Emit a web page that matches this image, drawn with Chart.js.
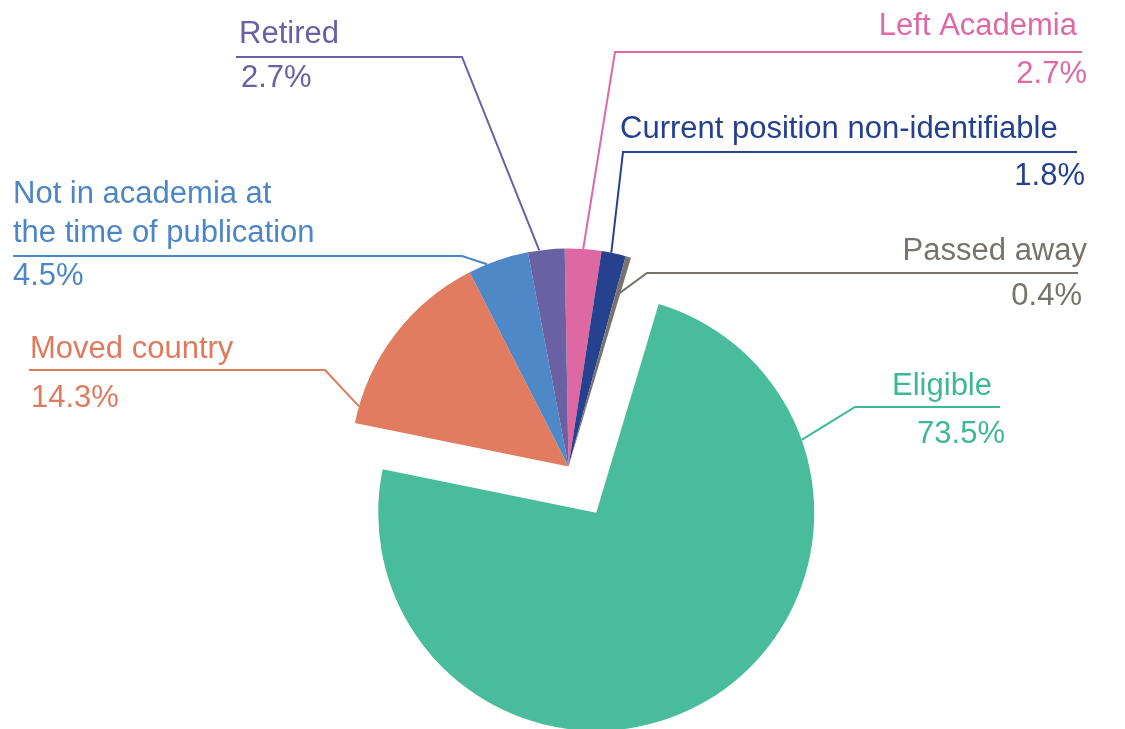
<!DOCTYPE html>
<html>
<head>
<meta charset="utf-8">
<script src="https://cdn.jsdelivr.net/npm/chart.js@4.4.1/dist/chart.umd.min.js"></script>
<style>
  html, body { margin: 0; padding: 0; background: #ffffff; }
  #wrap { width: 1125px; height: 729px; position: relative; }
</style>
</head>
<body>
<div id="wrap"><canvas id="c"></canvas></div>
<script>
// ---- data ----
const categories = [
  ["Left Academia"],
  ["Current position non-identifiable"],
  ["Passed away"],
  ["Eligible"],
  ["Moved country"],
  ["Not in academia at", "the time of publication"],
  ["Retired"]
];
const values = [2.7, 1.8, 0.4, 73.5, 14.3, 4.5, 2.7];
const sliceColors = ["#de68a2", "#26428f", "#78736e", "#49bc9c", "#e17c60", "#4f88c7", "#6961a4"];
const textColors  = ["#df69a5", "#25408f", "#77726d", "#3db897", "#e07a5f", "#4d86c6", "#6a60a6"];
const explode     = [0, 0, 0, 54, 0, 0, 0];

// ---- label layout (positions only) ----
const labelLayout = [
  { anchorFrac: 0.50, rFrac: 1.00, elbow: [615, 52],  end: [1082, 52],
    nameAlign: "right", nameX: 1077, nameY: [35], pctAlign: "right", pctX: 1087, pctY: 83 },
  { anchorFrac: 0.40, rFrac: 1.00, elbow: [623, 152], end: [1077, 152],
    nameAlign: "left", nameX: 620, nameY: [138], pctAlign: "right", pctX: 1085, pctY: 185 },
  { anchorFrac: 0.47, rFrac: 0.82, elbow: [647, 273], end: [1078, 273],
    nameAlign: "right", nameX: 1087, nameY: [260], pctAlign: "right", pctX: 1082, pctY: 305 },
  { anchorFrac: 0.203, rFrac: 1.00, elbow: [855, 407], end: [1000, 407],
    nameAlign: "right", nameX: 992, nameY: [395], pctAlign: "right", pctX: 1005, pctY: 443 },
  { anchorFrac: 0.087, rFrac: 1.00, elbow: [325, 370], end: [29, 370],
    nameAlign: "left", nameX: 30, nameY: [358], pctAlign: "left", pctX: 31, pctY: 407 },
  { anchorFrac: 0.31, rFrac: 1.00, elbow: [462, 256], end: [13, 256],
    nameAlign: "left", nameX: 13, nameY: [203, 242], pctAlign: "left", pctX: 13, pctY: 285 },
  { anchorFrac: 0.31, rFrac: 1.00, elbow: [462, 57], end: [236, 57],
    nameAlign: "left", nameX: 239, nameY: [43], pctAlign: "left", pctX: 241, pctY: 87 }
];

const FONT = '31px "Liberation Sans", Arial, Helvetica, sans-serif';

const explodePlugin = {
  id: 'explode',
  afterUpdate(chart) {
    const meta = chart.getDatasetMeta(0);
    meta.data.forEach((arc, i) => {
      const d = explode[i];
      if (!d || arc._exploded) return;
      const orig = arc.draw;
      arc.draw = function (ctx, area) {
        const half = (this.startAngle + this.endAngle) / 2;
        ctx.save();
        ctx.translate(Math.cos(half) * d, Math.sin(half) * d);
        orig.call(this, ctx, area);
        ctx.restore();
      };
      arc._exploded = true;
    });
  }
};

const calloutPlugin = {
  id: 'callouts',
  afterDatasetsDraw(chart) {
    const ctx = chart.ctx;
    const meta = chart.getDatasetMeta(0);
    meta.data.forEach((arc, i) => {
      const L = labelLayout[i];
      const p = arc.getProps(['x', 'y', 'startAngle', 'endAngle', 'outerRadius'], true);
      const half = (p.startAngle + p.endAngle) / 2;
      const cx = p.x + Math.cos(half) * explode[i];
      const cy = p.y + Math.sin(half) * explode[i];
      const a = p.startAngle + (p.endAngle - p.startAngle) * L.anchorFrac;
      const r = p.outerRadius * L.rFrac;
      const ax = cx + Math.cos(a) * r;
      const ay = cy + Math.sin(a) * r;

      ctx.save();
      ctx.strokeStyle = textColors[i];
      ctx.lineWidth = 2;
      ctx.lineJoin = 'miter';
      ctx.beginPath();
      ctx.moveTo(ax, ay);
      ctx.lineTo(L.elbow[0], L.elbow[1]);
      ctx.lineTo(L.end[0], L.end[1]);
      ctx.stroke();

      ctx.fillStyle = textColors[i];
      ctx.font = FONT;
      ctx.textBaseline = 'alphabetic';
      ctx.textAlign = L.nameAlign;
      categories[i].forEach((line, k) => ctx.fillText(line, L.nameX, L.nameY[k]));
      ctx.textAlign = L.pctAlign;
      ctx.fillText(values[i].toFixed(1) + '%', L.pctX, L.pctY);
      ctx.restore();
    });
  }
};

new Chart(document.getElementById('c'), {
  type: 'pie',
  data: {
    labels: categories.map(c => c.join(' ')),
    datasets: [{
      data: values,
      backgroundColor: sliceColors,
      borderWidth: 0,
      offset: 0,
      hoverOffset: 0,
      radius: 218
    }]
  },
  options: {
    responsive: true,
    maintainAspectRatio: false,
    animation: false,
    rotation: -1,
    layout: { padding: { top: 204, left: 12, right: 0, bottom: 0 } },
    plugins: {
      legend: { display: false },
      tooltip: { enabled: false }
    }
  },
  plugins: [explodePlugin, calloutPlugin]
});
</script>
</body>
</html>
